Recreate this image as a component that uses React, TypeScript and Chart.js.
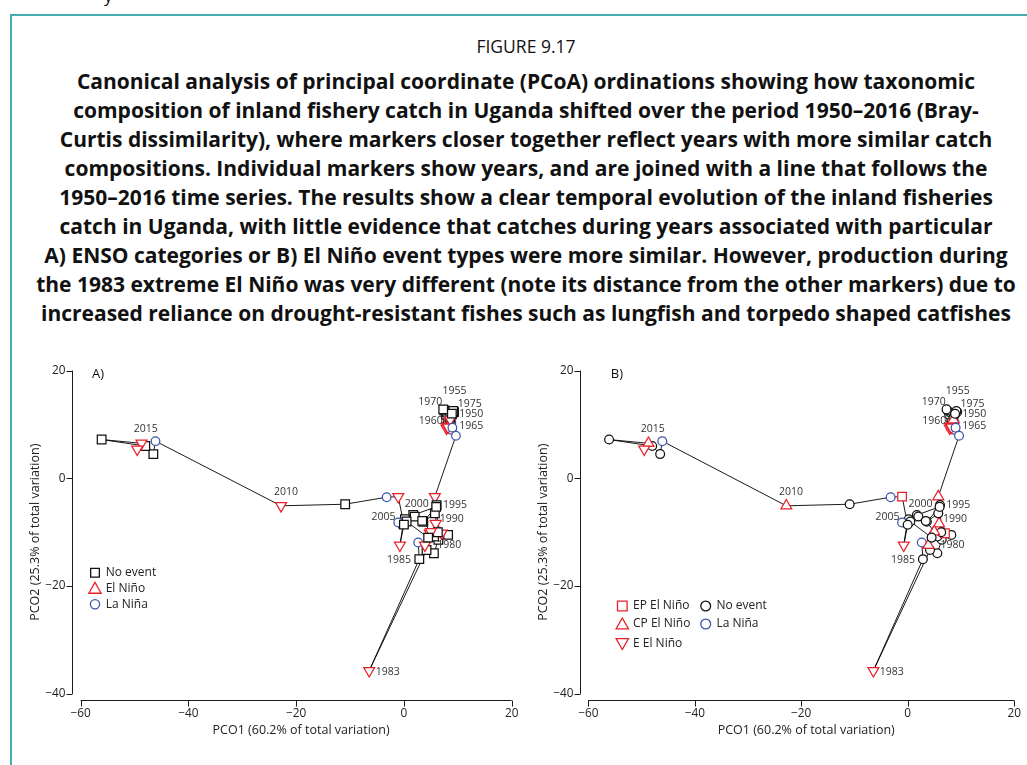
import React, { useEffect, useRef } from "react";
import { Chart, registerables } from "chart.js";

Chart.register(...registerables);

// ---------------- DATA ----------------
const years = [
  1950, 1951, 1952, 1953, 1954, 1955, 1956, 1957, 1958, 1959,
  1960, 1961, 1962, 1963, 1964, 1965, 1966, 1967, 1968, 1969,
  1970, 1971, 1972, 1973, 1974, 1975, 1976, 1977, 1978, 1979,
  1980, 1981, 1982, 1983, 1984, 1985, 1986, 1987, 1988, 1989,
  1990, 1991, 1992, 1993, 1994, 1995, 1996, 1997, 1998, 1999,
  2000, 2001, 2002, 2003, 2004, 2005, 2006, 2007, 2008, 2009,
  2010, 2011, 2012, 2013, 2014, 2015, 2016,
];

const pco1 = [
  8.4, 8.5, 8.6, 8.3, 8.7, 8.8, 8.6, 8.1, 7.9, 8.2,
  7.8, 8.0, 7.5, 8.4, 8.9, 8.0, 8.6, 8.9, 9.0, 8.6,
  7.3, 8.8, 8.2, 9.0, 9.3, 9.15, 8.9, 9.65, 5.75, 6.07,
  6.4, 5.57, 4.2, -6.44, 2.86, 2.65, 3.9, 4.8, 5.6, 8.2,
  5.9, 7.0, 6.3, 5.75, 3.6, 6.0, 1.73, 0.19, -0.74, -0.12,
  2.0, 3.4, 5.0, 4.5, 0.5, -1.05, 0.0, -1.05, -3.2, -10.9,
  -22.8, -46.1, -46.5, -48.0, -56.1, -48.7, -49.5,
];

const pco2 = [
  11.5, 10.8, 11.7, 10.6, 10.2, 10.4, 10.1, 9.8, 9.3, 11.0,
  11.8, 12.2, 12.6, 10.5, 9.2, 9.6, 11.3, 11.9, 12.1, 10.9,
  12.8, 9.0, 9.5, 9.4, 12.3, 12.5, 12.0, 7.9, -3.4, -4.96,
  -11.4, -13.9, -13.3, -35.7, -15.0, -11.9, -12.4, -10.2, -10.8, -10.5,
  -8.4, -10.2, -10.0, -6.5, -8.05, -5.3, -6.8, -7.6, -12.4, -8.4,
  -7.1, -7.9, -9.9, -11.0, -8.0, -8.2, -8.6, -3.4, -3.5, -4.8,
  -5.1, 6.9, 4.5, 6.0, 7.2, 6.5, 5.4,
];

// Panel A: ENSO category (N = no event, E = El Niño, L = La Niña)
const ensoA = [
  "N", "E", "N", "E", "L", "L", "L", "E", "E", "N",
  "N", "N", "N", "E", "L", "E", "N", "N", "N", "E",
  "N", "L", "E", "L", "N", "N", "N", "L", "E", "N",
  "N", "N", "N", "E", "N", "L", "E", "E", "N", "N",
  "E", "E", "N", "N", "N", "N", "N", "N", "E", "N",
  "N", "N", "E", "N", "N", "L", "N", "E", "L", "N",
  "E", "L", "N", "N", "N", "E", "E",
];

// Panel B: El Niño type (EP, CP, E = extreme) or N / L
const ensoB = [
  "N", "EP", "N", "CP", "L", "L", "L", "EP", "E", "N",
  "N", "N", "N", "CP", "L", "E", "N", "N", "N", "CP",
  "N", "L", "E", "L", "N", "N", "N", "L", "CP", "N",
  "N", "N", "N", "E", "N", "L", "CP", "CP", "N", "N",
  "CP", "EP", "N", "N", "N", "N", "N", "N", "E", "N",
  "N", "N", "CP", "N", "N", "L", "N", "EP", "L", "N",
  "CP", "L", "N", "N", "N", "CP", "E",
];

const labelYears = ["1955", "1970", "1975", "1950", "1960", "1965", "2015", "2010", "2000", "1995", "2005", "1990", "1980", "1985", "1983"];
const labelX = [9.4, 4.9, 12.2, 12.5, 5.0, 12.5, -47.9, -21.9, 2.4, 9.5, -3.8, 8.9, 8.4, -0.9, -3.0];
const labelY = [16.3, 14.2, 13.8, 11.85, 10.6, 9.8, 9.1, -2.5, -4.8, -4.96, -7.25, -7.5, -12.4, -15.2, -35.9];

const xTicks = [-60, -40, -20, 0, 20];
const yTicks = [-40, -20, 0, 20];

const xTitle = "PCO1 (60.2% of total variation)";
const yTitle = "PCO2 (25.3% of total variation)";

const figureLabel = "FIGURE 9.17";
const captionLines = [
  "Canonical analysis of principal coordinate (PCoA) ordinations showing how taxonomic",
  "composition of inland fishery catch in Uganda shifted over the period 1950\u20132016 (Bray-",
  "Curtis dissimilarity), where markers closer together reflect years with more similar catch",
  "compositions. Individual markers show years, and are joined with a line that follows the",
  "1950\u20132016 time series. The results show a clear temporal evolution of the inland fisheries",
  "catch in Uganda, with little evidence that catches during years associated with particular",
  "A) ENSO categories or B) El Ni\u00f1o event types were more similar. However, production during",
  "the 1983 extreme El Ni\u00f1o was very different (note its distance from the other markers) due to",
  "increased reliance on drought-resistant fishes such as lungfish and torpedo shaped catfishes",
];

// ---------------- STYLES ----------------
const RED = "#e8212b";
const BLUE = "#3d55a8";
const BLACK = "#111111";
const TEAL = "#45adad";
const FONT = '"Open Sans", "Noto Sans", sans-serif';

type MarkerDef = { style: string; rot: number; color: string; r: number };

const markersA: Record<string, MarkerDef> = {
  N: { style: "rect", rot: 0, color: BLACK, r: 6.1 },
  E: { style: "triangle", rot: 180, color: RED, r: 6.3 },
  L: { style: "circle", rot: 0, color: BLUE, r: 4.3 },
};
const markersB: Record<string, MarkerDef> = {
  EP: { style: "rect", rot: 0, color: RED, r: 6.1 },
  CP: { style: "triangle", rot: 0, color: RED, r: 6.3 },
  E: { style: "triangle", rot: 180, color: RED, r: 6.3 },
  N: { style: "circle", rot: 0, color: BLACK, r: 4.4 },
  L: { style: "circle", rot: 0, color: BLUE, r: 4.4 },
};

type LegendItem = { kind: string; color: string; text: string; x: number; y: number; size: number };

const legendA: LegendItem[] = [
  { kind: "square", color: BLACK, text: "No event", x: 95, y: 232.7, size: 8.7 },
  { kind: "triUp", color: RED, text: "El Ni\u00f1o", x: 95, y: 248.3, size: 12.4 },
  { kind: "circle", color: BLUE, text: "La Ni\u00f1a", x: 95, y: 264.2, size: 9.2 },
];
const legendB: LegendItem[] = [
  { kind: "square", color: RED, text: "EP El Ni\u00f1o", x: 97.3, y: 266, size: 9.6 },
  { kind: "triUp", color: RED, text: "CP El Ni\u00f1o", x: 97.3, y: 284, size: 12.4 },
  { kind: "triDown", color: RED, text: "E El Ni\u00f1o", x: 97.3, y: 303.5, size: 12.4 },
  { kind: "circle", color: BLACK, text: "No event", x: 180.7, y: 266, size: 9.8 },
  { kind: "circle", color: BLUE, text: "La Ni\u00f1a", x: 180.7, y: 284, size: 9.8 },
];

const X_MIN = -61.6;
const X_MAX = 21;
const Y_MIN = -41.1;
const Y_MAX = 21.5;

function drawLegendMarker(ctx: CanvasRenderingContext2D, it: LegendItem) {
  ctx.save();
  ctx.strokeStyle = it.color;
  ctx.lineWidth = 1.3;
  ctx.beginPath();
  const s = it.size;
  if (it.kind === "square") {
    ctx.rect(it.x - s / 2, it.y - s / 2, s, s);
  } else if (it.kind === "circle") {
    ctx.arc(it.x, it.y, s / 2, 0, Math.PI * 2);
  } else if (it.kind === "triUp") {
    const h = s * 0.8;
    ctx.moveTo(it.x, it.y - h / 2 - 1);
    ctx.lineTo(it.x + s / 2, it.y + h / 2);
    ctx.lineTo(it.x - s / 2, it.y + h / 2);
    ctx.closePath();
  } else {
    const h = s * 0.8;
    ctx.moveTo(it.x, it.y + h / 2 + 1);
    ctx.lineTo(it.x + s / 2, it.y - h / 2);
    ctx.lineTo(it.x - s / 2, it.y - h / 2);
    ctx.closePath();
  }
  ctx.stroke();
  ctx.restore();
}

function makeDecor(letter: string, letterDx: number, legend: LegendItem[]) {
  return {
    id: "decor" + letter,
    afterDraw(chart: any) {
      const ctx: CanvasRenderingContext2D = chart.ctx;
      const xs = chart.scales.x;
      const ys = chart.scales.y;
      const ca = chart.chartArea;
      ctx.save();
      ctx.strokeStyle = "#1a1a1a";
      ctx.lineWidth = 1;
      const axX = Math.round(ca.left) + 0.5;
      const axY = Math.round(ca.bottom) + 0.5;
      ctx.beginPath();
      ctx.moveTo(axX, ys.getPixelForValue(yTicks[yTicks.length - 1]));
      ctx.lineTo(axX, ys.getPixelForValue(yTicks[0]));
      yTicks.forEach((t) => {
        const py = Math.round(ys.getPixelForValue(t)) + 0.5;
        ctx.moveTo(axX, py);
        ctx.lineTo(axX - 6, py);
      });
      ctx.moveTo(xs.getPixelForValue(xTicks[0]), axY);
      ctx.lineTo(xs.getPixelForValue(xTicks[xTicks.length - 1]), axY);
      xTicks.forEach((t) => {
        const px = Math.round(xs.getPixelForValue(t)) + 0.5;
        ctx.moveTo(px, axY);
        ctx.lineTo(px, axY + 6);
      });
      ctx.stroke();

      const fmt = (v: number) => (v < 0 ? "\u2212" + Math.abs(v) : String(v));
      ctx.fillStyle = "#222";
      ctx.font = "11.8px " + FONT;
      ctx.textAlign = "right";
      ctx.textBaseline = "middle";
      yTicks.forEach((t) => ctx.fillText(fmt(t), axX - 7, ys.getPixelForValue(t)));
      ctx.textAlign = "center";
      xTicks.forEach((t) => ctx.fillText(fmt(t), xs.getPixelForValue(t), axY + 13));

      // axis titles
      ctx.font = "12.5px " + FONT;
      const xMid = (xs.getPixelForValue(xTicks[0]) + xs.getPixelForValue(xTicks[xTicks.length - 1])) / 2 + 5;
      ctx.fillText(xTitle, xMid, axY + 29.5);
      const yMid = (ys.getPixelForValue(yTicks[0]) + ys.getPixelForValue(yTicks[yTicks.length - 1])) / 2;
      ctx.save();
      ctx.translate(axX - 37, yMid);
      ctx.rotate(-Math.PI / 2);
      ctx.fillText(yTitle, 0, 0);
      ctx.restore();

      // year labels
      ctx.fillStyle = "#333";
      ctx.font = "10.5px " + FONT;
      labelYears.forEach((lab, i) => {
        ctx.fillText(lab, xs.getPixelForValue(labelX[i]), ys.getPixelForValue(labelY[i]));
      });

      // panel letter
      ctx.fillStyle = "#111";
      ctx.font = "13px " + FONT;
      ctx.textAlign = "left";
      ctx.fillText(letter, ca.left + letterDx, ys.getPixelForValue(20) + 4);

      // legend
      ctx.font = "12px " + FONT;
      ctx.fillStyle = "#222";
      legend.forEach((it) => {
        drawLegendMarker(ctx, it);
        ctx.fillStyle = "#222";
        ctx.fillText(it.text, it.x + 10.7, it.y);
      });
      ctx.restore();
    },
  };
}

type PanelProps = {
  left: number;
  width: number;
  axisLeft: number;
  cats: string[];
  markers: Record<string, MarkerDef>;
  letter: string;
  letterDx: number;
  legend: LegendItem[];
};

const PANEL_TOP = 340;
const PANEL_H = 420;
const UNIT = 5.388;

function Panel(props: PanelProps) {
  const ref = useRef<HTMLCanvasElement>(null);
  useEffect(() => {
    if (!ref.current) return;
    const plotW = (X_MAX - X_MIN) * UNIT;
    const plotH = (Y_MAX - Y_MIN) * UNIT;
    const padLeft = props.axisLeft - props.left;
    const padRight = props.width - padLeft - plotW;
    const padTop = 22.5;
    const padBottom = PANEL_H - padTop - plotH;
    const defs = props.cats.map((c) => props.markers[c]);
    const chart = new Chart(ref.current, {
      type: "scatter",
      data: {
        datasets: [
          {
            data: years.map((_, i) => ({ x: pco1[i], y: pco2[i] })),
            showLine: true,
            borderColor: "#000",
            borderWidth: 0.9,
            tension: 0,
            pointStyle: defs.map((d) => d.style) as any,
            pointRotation: defs.map((d) => d.rot),
            pointRadius: defs.map((d) => d.r),
            pointBorderColor: defs.map((d) => d.color),
            pointBackgroundColor: "#ffffff",
            pointBorderWidth: 1.25,
            clip: false as any,
          },
        ],
      },
      options: {
        animation: false,
        responsive: false,
        maintainAspectRatio: false,
        devicePixelRatio: 1,
        events: [],
        layout: { padding: { left: padLeft, right: padRight, top: padTop, bottom: padBottom } },
        plugins: { legend: { display: false }, tooltip: { enabled: false }, title: { display: false } },
        scales: {
          x: { type: "linear", min: X_MIN, max: X_MAX, display: false },
          y: { type: "linear", min: Y_MIN, max: Y_MAX, display: false },
        },
      },
      plugins: [makeDecor(props.letter, props.letterDx, props.legend)],
    });
    return () => chart.destroy();
  }, []);
  return (
    <canvas
      ref={ref}
      width={props.width}
      height={PANEL_H}
      style={{ position: "absolute", left: props.left, top: PANEL_TOP, width: props.width, height: PANEL_H }}
    />
  );
}

export default function App() {
  return (
    <div
      style={{
        position: "absolute",
        left: 0,
        top: 0,
        width: 1027,
        height: 765,
        overflow: "hidden",
        background: "#ffffff",
        fontFamily: FONT,
        color: "#111",
      }}
    >
      <div style={{ position: "absolute", left: 104, top: -14, fontSize: 17, lineHeight: "20px" }}>y</div>
      <div style={{ position: "absolute", left: 10, top: 14, right: 0, height: 2, background: TEAL }} />
      <div style={{ position: "absolute", left: 10, top: 14, width: 2, bottom: 0, background: TEAL }} />
      <div
        style={{
          position: "absolute",
          left: 6,
          width: 1040,
          top: 35,
          textAlign: "center",
          fontSize: 17.5,
          lineHeight: "22px",
          whiteSpace: "nowrap",
        }}
      >
        {figureLabel}
      </div>
      <div
        style={{
          position: "absolute",
          left: 6,
          width: 1040,
          top: 66.5,
          textAlign: "center",
          fontSize: 21,
          fontWeight: 700,
          lineHeight: "29.1px",
          whiteSpace: "nowrap",
        }}
      >
        {captionLines.map((l, i) => (
          <div key={i}>{l}</div>
        ))}
      </div>
      <Panel
        left={0}
        width={525}
        axisLeft={72}
        cats={ensoA}
        markers={markersA}
        letter="A)"
        letterDx={20}
        legend={legendA}
      />
      <Panel
        left={525}
        width={502}
        axisLeft={579.8}
        cats={ensoB}
        markers={markersB}
        letter="B)"
        letterDx={31}
        legend={legendB}
      />
    </div>
  );
}
